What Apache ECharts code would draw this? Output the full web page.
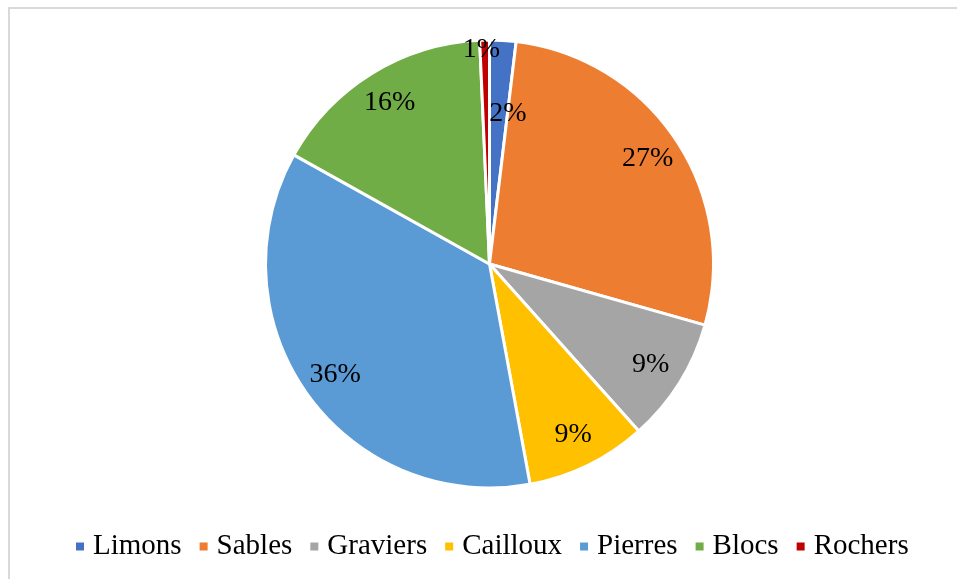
<!DOCTYPE html>
<html>
<head>
<meta charset="utf-8">
<style>
  html, body { margin: 0; padding: 0; background: #fff; }
  #chart { width: 957px; height: 579px; }
</style>
<script src="https://cdn.jsdelivr.net/npm/echarts@6/dist/echarts.min.js"></script>
</head>
<body>
<div id="chart"></div>
<script>
const categories = ['Limons', 'Sables', 'Graviers', 'Cailloux', 'Pierres', 'Blocs', 'Rochers']
const shares = [1.9, 27.5, 9.0, 8.7, 36.0, 16.2, 0.7]
const colors = ['#4472C4', '#ED7D31', '#A5A5A5', '#FFC000', '#5B9BD5', '#70AD47', '#C00000']

// Excel "best fit" moved the two thin slices' labels away from the ring
const labelShift = { Limons: [7, 39], Rochers: [-4, -24] }

const serif = "'Times New Roman', 'Liberation Serif', serif"
const center = [489.5, 264]

const chart = echarts.init(document.getElementById('chart'))

const pieData = categories.map((name, i) => ({
  name,
  value: shares[i],
  itemStyle: { color: colors[i] }
}))

chart.setOption({
  animation: false,
  graphic: [
    {
      type: 'rect',
      shape: { x: 9, y: 8, width: 1000, height: 1000 },
      style: { fill: 'none', stroke: '#d9d9d9', lineWidth: 2 },
      silent: true
    }
  ],
  legend: {
    data: categories,
    left: 69,
    top: 527,
    icon: 'rect',
    itemWidth: 10,
    itemHeight: 10,
    itemGap: 16,
    textStyle: {
      fontFamily: serif,
      fontSize: 29,
      color: '#000',
      padding: [0, 0, 0, 3]
    }
  },
  series: [
    {
      name: 'main',
      type: 'pie',
      center,
      radius: 224,
      startAngle: 90,
      clockwise: true,
      label: { show: false },
      labelLine: { show: false },
      itemStyle: { borderColor: '#fff', borderWidth: 3 },
      emphasis: { disabled: true },
      data: pieData
    },
    {
      // transparent ring only used to place the percent labels further out
      name: 'labels',
      type: 'pie',
      center,
      radius: [150, 224],
      startAngle: 90,
      clockwise: true,
      silent: true,
      percentPrecision: 0,
      itemStyle: { color: 'rgba(0,0,0,0)' },
      label: {
        show: true,
        position: 'inside',
        formatter: '{d}%',
        fontFamily: serif,
        fontSize: 28,
        color: '#000'
      },
      labelLine: { show: false },
      labelLayout: params => {
        const s = labelShift[categories[params.dataIndex]]
        return s ? { dx: s[0], dy: s[1] } : {}
      },
      emphasis: { disabled: true },
      data: categories.map((name, i) => ({ name, value: shares[i] }))
    }
  ]
})
</script>
</body>
</html>
